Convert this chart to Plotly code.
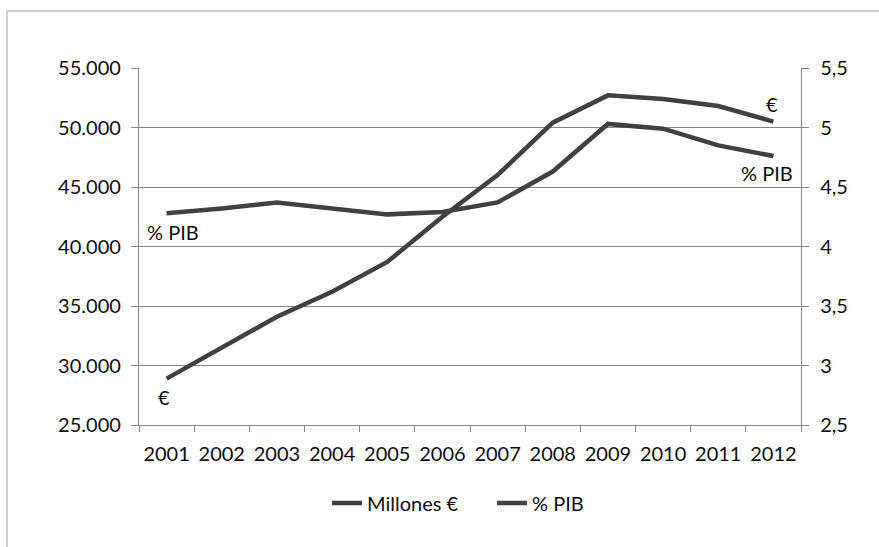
import plotly.graph_objects as go

# Gasto anual: millones de euros (eje izquierdo) y porcentaje del PIB (eje derecho)
years = ["2001", "2002", "2003", "2004", "2005", "2006",
         "2007", "2008", "2009", "2010", "2011", "2012"]
millones = [28900, 31500, 34100, 36200, 38700, 42500,
            46000, 50400, 52700, 52400, 51800, 50500]
pib = [4.28, 4.32, 4.37, 4.32, 4.27, 4.29,
       4.37, 4.63, 5.03, 4.99, 4.85, 4.76]

left_ticks = [25000, 30000, 35000, 40000, 45000, 50000, 55000]
right_ticks = [2.5, 3, 3.5, 4, 4.5, 5, 5.5]

LINE = "#404040"
GRID = "#868686"
FONT = dict(family="Lato, 'Open Sans', sans-serif", size=20, color="#0d0d0d")

fig = go.Figure()
fig.add_trace(go.Scatter(x=years, y=millones, name="Millones €", mode="lines",
                         line=dict(color=LINE, width=4.5), yaxis="y"))
fig.add_trace(go.Scatter(x=years, y=pib, name="% PIB", mode="lines",
                         line=dict(color=LINE, width=4.5), yaxis="y2"))

W, H = 879, 547
L, R, T, B = 139, 801, 68, 425


def px_x(p):
    return (p - L) / (R - L)


def px_y(p):
    return (B - p) / (B - T)


# Marco exterior del gráfico
fig.add_shape(type="rect", xref="paper", yref="paper",
              x0=px_x(7), x1=px_x(884), y0=px_y(552), y1=px_y(11),
              line=dict(color="#c0c0c0", width=1.5), fillcolor="rgba(0,0,0,0)",
              layer="below")

first, last = 0, len(years) - 1
annotations = [
    dict(x=first, y=pib[first], yref="y2", text="% PIB", xanchor="left",
         yanchor="middle", xshift=-22, yshift=-19),
    dict(x=first, y=millones[first], yref="y", text="€", xanchor="center",
         yanchor="middle", xshift=-3, yshift=-18),
    dict(x=last, y=millones[last], yref="y", text="€", xanchor="center",
         yanchor="middle", xshift=-1, yshift=18),
    dict(x=last, y=pib[last], yref="y2", text="% PIB", xanchor="center",
         yanchor="middle", xshift=-6, yshift=-17),
]
for a in annotations:
    a.update(xref="x", showarrow=False, font=FONT)

fig.update_layout(
    width=W, height=H,
    margin=dict(l=L, r=W - R, t=T, b=H - B),
    paper_bgcolor="white", plot_bgcolor="white",
    font=FONT,
    separators=",.",
    showlegend=True,
    legend=dict(orientation="h", x=px_x(327), y=px_y(503), xanchor="left",
                yanchor="middle", font=FONT, entrywidth=120,
                entrywidthmode="pixels", bgcolor="rgba(0,0,0,0)"),
    annotations=annotations,
    xaxis=dict(type="category", categoryorder="array", categoryarray=years,
               range=[-0.5, len(years) - 0.5], autorange=False,
               showgrid=False, showline=True, linecolor=GRID,
               linewidth=1.3, ticks="outside", tickson="boundaries", ticklen=6,
               tickcolor=GRID, tickfont=FONT, tickangle=0,
               ticklabelstandoff=11),
    yaxis=dict(range=[25000, 55000], tickvals=left_ticks, tickformat=",d",
               showgrid=True, gridcolor=GRID, gridwidth=1.3, showline=True,
               linecolor=GRID, linewidth=1.3, ticks="outside", ticklen=7,
               tickcolor=GRID, tickfont=FONT, zeroline=False,
               ticklabelstandoff=6),
    yaxis2=dict(range=[2.5, 5.5], tickvals=right_ticks, overlaying="y",
                side="right", showgrid=False, showline=True, linecolor=GRID,
                linewidth=1.3, ticks="outside", ticklen=7, tickcolor=GRID,
                tickfont=FONT, zeroline=False, ticklabelstandoff=7),
)

fig.write_html("out.html")
